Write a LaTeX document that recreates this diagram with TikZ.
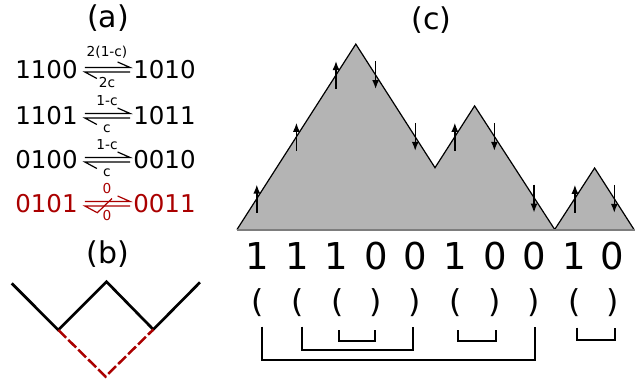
\documentclass[tikz,border=0pt]{standalone}
\usepackage{fontspec}
\setmainfont{DejaVu Sans}
\usetikzlibrary{arrows.meta,calc}
\definecolor{dred}{RGB}{170,0,0}
\definecolor{mfill}{RGB}{180,180,180}
\definecolor{mbase}{RGB}{125,125,125}
\begin{document}
\begin{tikzpicture}[x=1pt,y=-1pt,
  lbl/.style={inner sep=0pt,font=\fontsize{30}{34}\selectfont},
  num/.style={inner sep=0pt,font=\fontsize{24.5}{28}\selectfont},
  rate/.style={inner sep=0pt,font=\fontsize{13.7}{16}\selectfont,anchor=base},
  harp/.style={line width=1.2pt,line join=miter},
  big/.style={inner sep=0pt,font=\fontsize{37}{40}\selectfont},
  par/.style={inner sep=0pt,font=\fontsize{31.5}{34}\selectfont},
  brk/.style={line width=2.3pt,line join=miter},
  arr/.style={line width=1.4pt,-{Latex[length=9pt,width=7pt]}},
  slope/.style={line width=1.2pt,line join=miter},
]
\useasboundingbox (0,0) rectangle (644,381);

% ---------- (a) ----------
\node[lbl] (la) at (108,18) {(a)};
\foreach \yc/\L/\R/\T/\B/\n in {70/1100/1010/2(1-c)/2c/1, 116/1101/1011/1-c/c/2, 160/0100/0010/1-c/c/3}{
  \node[num] (L\n) at (46.5,\yc) {\L};
  \node[num] (R\n) at (164.5,\yc) {\R};
  \draw[harp] ([shift={(7,-2.5)}]L\n.east) -- ([shift={(-3,-2.5)}]R\n.west) -- ++(-12.5,-5.5);
  \draw[harp] ([shift={(-3,2)}]R\n.west) -- ([shift={(7,2)}]L\n.east) -- ++(12,6.5);
}
\node[rate] at (107,56.5) {2(1-c)};
\node[rate] at (107,87) {2c};
\node[rate] at (107,105) {1-c};
\node[rate] at (107,132) {c};
\node[rate] at (107,149) {1-c};
\node[rate] at (107,176.5) {c};

\node[num,text=dred] (L4) at (46.5,204) {0101};
\node[num,text=dred] (R4) at (164.5,204) {0011};
\draw[harp,dred] ([shift={(7,-2.5)}]L4.east) -- ([shift={(-3,-2.5)}]R4.west) -- ++(-12.5,-5.5);
\draw[harp,dred] ([shift={(-3,2)}]R4.west) -- ([shift={(7,2)}]L4.east) -- ++(12,6.5);
\draw[line width=1.2pt,dred] (97,213) -- (112,198.5);
\node[rate,text=dred] at (107,193.5) {0};
\node[rate,text=dred] at (107,220) {0};

% ---------- (b) ----------
\node[lbl] (lb) at (108,254) {(b)};
\draw[line width=2.7pt,line join=miter] (11.7,283.3) -- (58.3,330) -- (106.5,281.7) -- (153.3,329.5) -- (200,282.3);
\draw[line width=2.5pt,dred,dash pattern=on 11pt off 3pt] (58.3,330) -- (105.5,376.5) -- (153.3,329.5);

% ---------- (c) ----------
\node[lbl] (lc) at (431.7,20) {(c)};
\fill[mfill] (237,229.5) -- (355.8,44.1) -- (435,167.7) -- (474.6,105.9) -- (554.2,229.5) -- cycle;
\fill[mfill] (555.2,229.5) -- (594.6,168) -- (634,229.5) -- cycle;
\draw[slope] (237,229.5) -- (355.8,44.1) -- (435,167.7) -- (474.6,105.9) -- (554.7,229.5) -- (594.6,168) -- (634,229.5);
\draw[line width=1.6pt,mbase] (236.5,229.8) -- (634.5,229.8);

% arrows on steps
\foreach \x/\y in {256.8/198.6, 296.4/136.8, 336/75, 454.8/136.8, 574.9/198.8}
  \draw[arr] (\x,\y+14) -- (\x,\y-14);
\foreach \x/\y in {375.6/75, 415.2/136.8, 494.4/136.8, 534/198.6, 614.3/198.8}
  \draw[arr] (\x,\y-14) -- (\x,\y+14);

% sequence
\foreach \x/\d [count=\i] in {257.5/1, 297/1, 336.5/1, 376.5/0, 415.5/0, 455/1, 495/0, 534.5/0, 574/1, 612.5/0}
  \node[big] (d\i) at (\x,256.5) {\d};
\foreach \x/\d [count=\i] in {258/(, 298/(, 337.5/(, 376/), 414.5/), 456/(, 495/), 534/), 575/(, 613/)}
  \node[par] (p\i) at (\x,303) {\d};

% brackets
\draw[brk] (261.7,326.7) -- (261.7,360) -- (535,360) -- (535,326.7);
\draw[brk] (301.7,326.7) -- (301.7,350) -- (413.3,350) -- (413.3,326.7);
\draw[brk] (339.3,330) -- (339.3,341) -- (375,341) -- (375,330);
\draw[brk] (457.7,330) -- (457.7,341) -- (495.7,341) -- (495.7,330);
\draw[brk] (577.3,327.7) -- (577.3,340) -- (615,340) -- (615,327.7);
\end{tikzpicture}
\end{document}
